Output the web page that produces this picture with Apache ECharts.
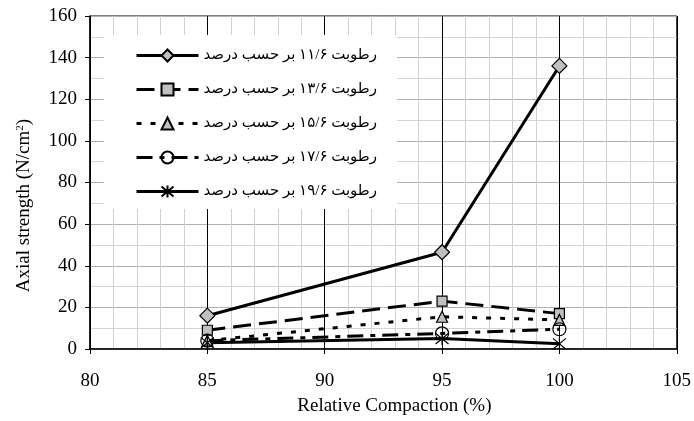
<!DOCTYPE html>
<html>
<head>
<meta charset="utf-8">
<script src="https://cdn.jsdelivr.net/npm/echarts@6/dist/echarts.min.js"></script>
<style>
  html, body { margin: 0; padding: 0; background: #fff; }
  #chart { width: 694px; height: 421px; }
</style>
</head>
<body>
<div id="chart"></div>
<script>
// relative compaction (%) on x, axial strength (N/cm2) on y
var compaction = [85, 95, 100];
var moisture116 = [16, 46.5, 136];
var moisture136 = [9, 23, 17];
var moisture156 = [4, 15.5, 14];
var moisture176 = [4, 7.5, 9.5];
var moisture196 = [3, 5, 2.5];

var seriesNames = [
  "رطوبت ۱۱/۶ بر حسب درصد",
  "رطوبت ۱۳/۶ بر حسب درصد",
  "رطوبت ۱۵/۶ بر حسب درصد",
  "رطوبت ۱۷/۶ بر حسب درصد",
  "رطوبت ۱۹/۶ بر حسب درصد"
];

var xTicks = [80, 85, 90, 95, 100, 105];
var yTicks = [0, 20, 40, 60, 80, 100, 120, 140, 160];

var serifFont = "'Liberation Serif', 'Times New Roman', serif";
var legendFont = "'Liberation Serif', 'DejaVu Sans', serif";

function pairs(values) {
  return compaction.map(function (x, i) {
    return [x, values[i]];
  });
}

// asterisk marker like the excel one
var starPath = "path://M0,0L10,10M10,0L0,10M5,-1L5,11";

function makeSeries(name, values, symbol, size, fill, dash) {
  return {
    name: name,
    type: "line",
    data: pairs(values),
    symbol: symbol,
    symbolSize: size,
    showAllSymbol: true,
    lineStyle: { color: "#000", width: 3, type: dash },
    itemStyle: { color: fill, borderColor: "#000", borderWidth: 1.2 },
    emphasis: { disabled: true },
    z: 3
  };
}

var chart = echarts.init(document.getElementById("chart"));

chart.setOption({
  animation: false,
  grid: {
    left: 90,
    right: 16,
    top: 16,
    bottom: 68,
    show: true,
    borderColor: "#000",
    borderWidth: 1
  },
  legend: {
    orient: "vertical",
    left: 104,
    top: 35,
    padding: [13, 20, 10, 31],
    itemGap: 19,
    itemWidth: 62,
    itemHeight: 15,
    backgroundColor: "#fff",
    lineStyle: { width: 3 },
    textStyle: { fontFamily: legendFont, fontSize: 15, color: "#000" },
    data: seriesNames
  },
  xAxis: {
    type: "value",
    min: xTicks[0],
    max: xTicks[xTicks.length - 1],
    interval: 5,
    name: "Relative Compaction (%)",
    nameLocation: "middle",
    nameGap: 48,
    nameTextStyle: { fontFamily: serifFont, fontSize: 19, color: "#000", padding: [0, 0, 0, 22] },
    axisLine: { lineStyle: { color: "#000", width: 1.5 } },
    axisTick: { show: true, length: 5, lineStyle: { color: "#000" } },
    axisLabel: { fontFamily: serifFont, fontSize: 19, color: "#000", margin: 23 },
    splitLine: { show: true, lineStyle: { color: "#000", width: 1 } },
    minorTick: { show: false, splitNumber: 5 },
    minorSplitLine: { show: true, lineStyle: { color: "#d0d0d0", width: 1 } }
  },
  yAxis: {
    type: "value",
    min: yTicks[0],
    max: yTicks[yTicks.length - 1],
    interval: 20,
    name: "Axial strength (N/cm{sup|2})",
    nameLocation: "middle",
    nameGap: 56,
    nameTextStyle: {
      fontFamily: serifFont,
      fontSize: 19,
      color: "#000",
      padding: [0, 46, 0, 0],
      rich: {
        sup: { fontFamily: serifFont, fontSize: 11, color: "#000", verticalAlign: "top", padding: [0, 0, 8, 0] }
      }
    },
    axisLine: { show: true, lineStyle: { color: "#000", width: 1.5 } },
    axisTick: { show: true, length: 5, lineStyle: { color: "#000" } },
    axisLabel: { fontFamily: serifFont, fontSize: 19, color: "#000", margin: 13 },
    splitLine: { show: true, lineStyle: { color: "#b0b0b0", width: 1 } },
    minorTick: { show: false, splitNumber: 2 },
    minorSplitLine: { show: true, lineStyle: { color: "#d4d4d4", width: 1 } }
  },
  series: [
    makeSeries(seriesNames[0], moisture116, "diamond", 15, "#c0c0c0", "solid"),
    makeSeries(seriesNames[1], moisture136, "rect", 10, "#c0c0c0", [18, 8]),
    makeSeries(seriesNames[2], moisture156, "triangle", 11, "#c0c0c0", [5, 9]),
    makeSeries(seriesNames[3], moisture176, "circle", 13, "transparent", [16, 7, 5, 7]),
    makeSeries(seriesNames[4], moisture196, starPath, 13, "transparent", "solid")
  ]
});
</script>
</body>
</html>
